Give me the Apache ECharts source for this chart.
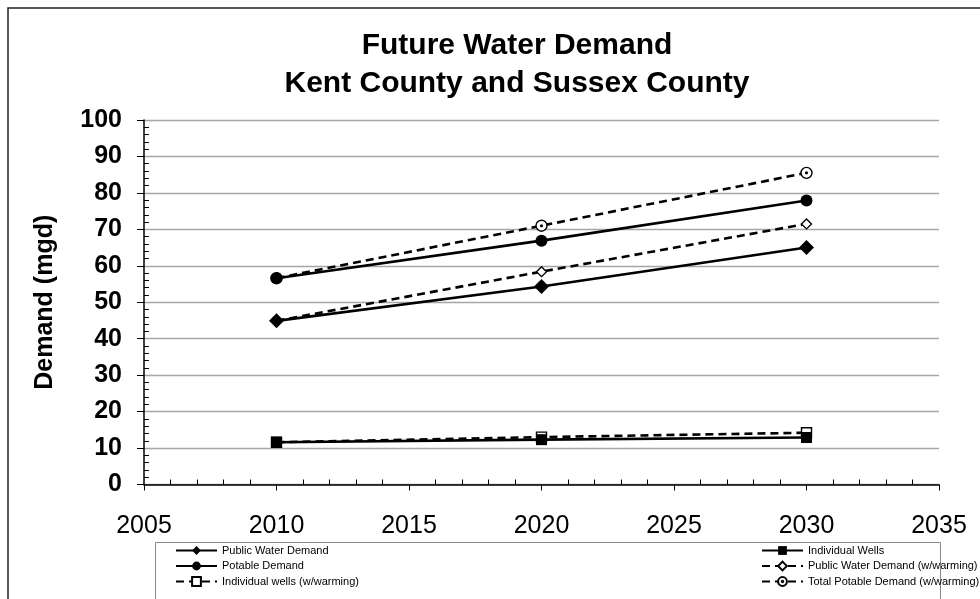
<!DOCTYPE html>
<html>
<head>
<meta charset="utf-8">
<script src="https://cdn.jsdelivr.net/npm/echarts@6/dist/echarts.min.js"></script>
<style>html,body{margin:0;padding:0;background:#fff}#c{width:980px;height:599px}</style>
</head>
<body>
<div id="c"></div>
<script>
var years = [2010, 2020, 2030];
var publicWater = [44.9, 54.3, 65.0];
var individualWells = [11.6, 12.3, 12.9];
var potable = [56.6, 66.9, 77.9];
var publicWaterWarm = [44.9, 58.4, 71.5];
var wellsWarm = [11.6, 13.0, 14.2];
var totalPotableWarm = [56.6, 71.0, 85.5];
var seriesNames = ['Public Water Demand', 'Individual Wells', 'Potable Demand',
  'Public Water Demand (w/warming)', 'Individual wells (w/warming)', 'Total Potable Demand (w/warming)'];
var titleLines = ['Future Water Demand', 'Kent County and Sussex County'];
var yAxisName = 'Demand (mgd)';

function pairs(vals) { return years.map(function (y, i) { return [y, vals[i]]; }); }

var FONT = '"Liberation Sans", Arial, sans-serif';
var dotCircle = 'path://M0,-10A10,10 0 1,1 0,10A10,10 0 1,1 0,-10Z M0,-1.6A1.6,1.6 0 1,1 0,1.6A1.6,1.6 0 1,1 0,-1.6Z';

var GRID = { left: 144, right: 41, top: 120, bottom: 114.5 };
var gridW = 980 - GRID.left - GRID.right;
var gridH = 599 - GRID.top - GRID.bottom;

function solid(name, vals, symbol, size) {
  return {
    name: name, type: 'line', data: pairs(vals), z: 4,
    symbol: symbol, symbolSize: size, showSymbol: true,
    lineStyle: { color: '#000', width: 2.6, type: 'solid' },
    itemStyle: { color: '#000', borderColor: '#000', borderWidth: 0 }
  };
}
function dashed(name, vals, symbol, size) {
  return {
    name: name, type: 'line', data: pairs(vals), z: 3,
    symbol: symbol, symbolSize: size, showSymbol: true,
    lineStyle: { color: '#000', width: 2.6, type: [8, 5] },
    itemStyle: { color: '#fff', borderColor: '#000', borderWidth: 1.4 }
  };
}

// legend slots: [seriesIndex, left, top]
var legendSlots = [[0, 175, 545], [1, 761, 545], [2, 175, 560.5], [3, 761, 560.5], [4, 175, 576], [5, 761, 576]];
var legends = legendSlots.map(function (s) {
  return {
    orient: 'horizontal', left: s[1], top: s[2], padding: 0, itemWidth: 41, itemHeight: 11, itemGap: 4,
    data: [seriesNames[s[0]]],
    textStyle: { fontFamily: FONT, fontSize: 11, color: '#000', padding: [0, 0, 0, 0] }
  };
});

var chart = echarts.init(document.getElementById('c'), null, { renderer: 'canvas' });
chart.setOption({
  animation: false,
  backgroundColor: '#fff',
  textStyle: { fontFamily: FONT },
  title: {
    text: titleLines.join('\n'),
    left: 512, top: 22, textAlign: 'center',
    textStyle: { fontFamily: FONT, fontSize: 30, fontWeight: 'bold', color: '#000', lineHeight: 38 }
  },
  graphic: [
    { type: 'rect', shape: { x: 8, y: 8, width: 1000, height: 620 }, style: { fill: 'none', stroke: '#222', lineWidth: 1.5 }, z: 0 },
    { type: 'rect', shape: { x: 155.5, y: 542.5, width: 785, height: 80 }, style: { fill: 'none', stroke: '#888', lineWidth: 1 }, z: 0 }
  ],
  grid: { left: GRID.left, right: GRID.right, top: GRID.top, bottom: GRID.bottom, containLabel: false },
  legend: legends,
  xAxis: [
    {
      type: 'value', min: 2005, max: 2035, interval: 5, position: 'bottom',
      axisLine: { show: true, lineStyle: { color: '#000', width: 1.5 } },
      axisTick: { show: true, inside: false, length: 6, lineStyle: { color: '#000', width: 1 } },
      minorTick: { show: false },
      splitLine: { show: false },
      axisLabel: { fontFamily: FONT, fontSize: 25, color: '#000', margin: 29, formatter: function (v) { return String(v); } }
    },
    {
      // overlay axis placed on the bottom edge from the top side: its outward ticks point up into the plot
      type: 'value', min: 2005, max: 2035, interval: 5, position: 'top', offset: -gridH,
      axisLine: { show: false },
      axisTick: { show: false },
      minorTick: { show: true, splitNumber: 5, length: 5, lineStyle: { color: '#000', width: 1 } },
      splitLine: { show: false },
      axisLabel: { show: false }
    }
  ],
  yAxis: [
    {
      type: 'value', min: 0, max: 100, interval: 10, position: 'left',
      name: yAxisName, nameLocation: 'middle', nameRotate: 90, nameGap: 86,
      nameTextStyle: { fontFamily: FONT, fontSize: 25, fontWeight: 'bold', color: '#000' },
      axisLine: { show: true, lineStyle: { color: '#000', width: 1.5 } },
      axisTick: { show: true, inside: false, length: 7, lineStyle: { color: '#000', width: 1 } },
      minorTick: { show: false },
      splitLine: { show: true, lineStyle: { color: '#a6a6a6', width: 1.3 } },
      axisLabel: { fontFamily: FONT, fontSize: 25, fontWeight: 'bold', color: '#000', margin: 22 }
    },
    {
      type: 'value', min: 0, max: 100, interval: 10, position: 'right', offset: -gridW,
      axisLine: { show: false },
      axisTick: { show: false },
      minorTick: { show: true, splitNumber: 5, length: 5, lineStyle: { color: '#000', width: 1 } },
      splitLine: { show: false },
      axisLabel: { show: false }
    }
  ],
  series: [
    solid(seriesNames[0], publicWater, 'diamond', 15),
    solid(seriesNames[1], individualWells, 'rect', 11),
    solid(seriesNames[2], potable, 'circle', 12),
    dashed(seriesNames[3], publicWaterWarm, 'diamond', 10),
    dashed(seriesNames[4], wellsWarm, 'rect', 10),
    dashed(seriesNames[5], totalPotableWarm, dotCircle, 11)
  ]
});
</script>
</body>
</html>
